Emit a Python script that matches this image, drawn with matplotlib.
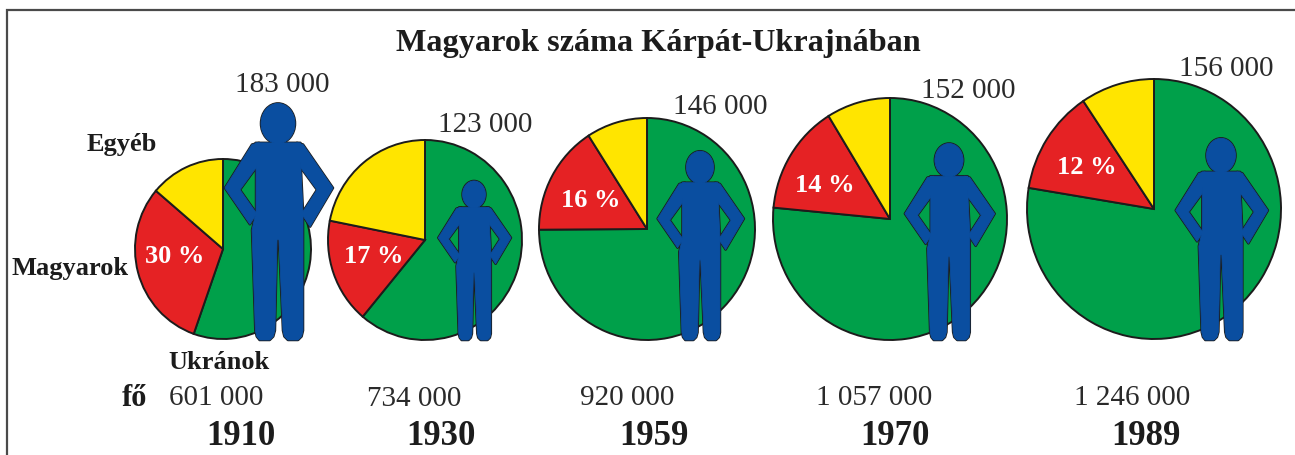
import matplotlib
matplotlib.use('Agg')
import matplotlib.pyplot as plt
from matplotlib.patches import Ellipse, Polygon

plt.rcParams['font.family'] = ['Liberation Serif', 'DejaVu Serif']

# Data
years = ['1910', '1930', '1959', '1970', '1989']
total_labels = ['601 000', '734 000', '920 000', '1 057 000', '1 246 000']
magyar_counts = [183000, 123000, 146000, 152000, 156000]
magyar_labels = ['183 000', '123 000', '146 000', '152 000', '156 000']
percent_labels = ['30 %', '17 %', '16 %', '14 %', '12 %']
egyeb_share = [13.8, 21.9, 9.1, 8.8, 9.4]
magyar_share = [30.8, 17.0, 16.0, 14.7, 13.0]
ukran_share = [55.4, 61.1, 74.9, 76.5, 77.6]

W, H = 1295, 456
GREEN, RED, YELLOW, BLUE = '#00a04a', '#e52224', '#ffe500', '#0a4ea0'
INK = '#1c1c1c'

# layout in image pixels, y measured from the top
pie_cx = [223, 425, 647, 890, 1154]
pie_cy = [250, 241, 230, 220, 210]
pie_rx = [88, 97, 108, 117, 127]
pie_ry = [90, 100, 111, 121, 130]
person_x = [278, 474, 700, 949, 1221]
person_base = 341
px_per_person = 1 / 775
count_x = [282, 485, 720, 968, 1226]
count_y = [83, 122, 105, 88, 66]
total_x = [216, 414, 627, 874, 1132]
total_y = [396, 397, 396, 396, 396]
year_x = [241, 441, 654, 895, 1146]
percent_x = [175, 374, 591, 825, 1087]
percent_y = [254, 254, 198, 183, 165]

# person outline, unit = figure height, x from the body axis, y from the head top
TORSO = [(-0.095, 0.165), (0.095, 0.165), (0.097, 0.271), (0.106, 0.458), (0.106, 0.96),
         (0.100, 0.985), (0.085, 1.0), (0.042, 1.0), (0.027, 0.985), (0.021, 0.96),
         (0.004, 0.575), (-0.004, 0.575), (-0.013, 0.96), (-0.020, 0.985), (-0.035, 1.0),
         (-0.078, 1.0), (-0.090, 0.985), (-0.096, 0.96), (-0.110, 0.534), (-0.093, 0.458),
         (-0.093, 0.271)]
ARM_R = [(0.080, 0.165), (0.106, 0.172), (0.233, 0.356), (0.136, 0.520), (0.100, 0.465),
         (0.165, 0.364), (0.097, 0.271)]
ARM_L = [(-0.080, 0.165), (-0.110, 0.172), (-0.225, 0.356), (-0.119, 0.510), (-0.090, 0.465),
         (-0.161, 0.364), (-0.093, 0.271)]
HEAD = (0.0, 0.083, 0.144, 0.170)


def fig_box(cx, cy, rx, ry):
    return [(cx - rx) / W, 1 - (cy + ry) / H, 2 * rx / W, 2 * ry / H]


def to_xy(points, x0, height):
    top = person_base - height
    return [(x0 + px * height, H - (top + py * height)) for px, py in points]


def draw_person(ax, x0, count):
    height = count * px_per_person
    top = person_base - height
    # outline first, then the fill on top so the parts merge into one shape
    for edge, lw, z in [(INK, 1.8, 6), (BLUE, 0.6, 7)]:
        for part in (TORSO, ARM_R, ARM_L):
            ax.add_patch(Polygon(to_xy(part, x0, height), closed=True, facecolor=BLUE,
                                 edgecolor=edge, linewidth=lw, joinstyle='round', zorder=z))
        ax.add_patch(Ellipse((x0 + HEAD[0] * height, H - (top + HEAD[1] * height)),
                             HEAD[2] * height, HEAD[3] * height, facecolor=BLUE,
                             edgecolor=edge, linewidth=lw, zorder=z))


fig = plt.figure(figsize=(W / 100, H / 100), dpi=100, facecolor='white')

for i in range(len(years)):
    ax_pie = fig.add_axes(fig_box(pie_cx[i], pie_cy[i], pie_rx[i], pie_ry[i]))
    ax_pie.pie([ukran_share[i], magyar_share[i], egyeb_share[i]],
               colors=[GREEN, RED, YELLOW], startangle=90, counterclock=False,
               wedgeprops={'edgecolor': INK, 'linewidth': 1.4, 'clip_on': False})
    ax_pie.set_aspect('auto')
    ax_pie.set_xlim(-1, 1)
    ax_pie.set_ylim(-1, 1)
    ax_pie.set_zorder(1)

ax = fig.add_axes([0, 0, 1, 1], zorder=2)
ax.set_xlim(0, W)
ax.set_ylim(0, H)
ax.axis('off')
ax.patch.set_alpha(0)

# frame: only top and left sides
ax.plot([W, 7, 7], [H - 10.5, H - 10.5, 0], color='#4a4a4a', lw=1.6, solid_joinstyle='miter')


def label(x, y, s, size, bold=False, color=INK, ha='center'):
    ax.text(x, H - y - 2.5, s, fontsize=size, ha=ha, va='center', color=color,
            fontweight='bold' if bold else 'normal', zorder=9)


label(658, 40.5, 'Magyarok száma Kárpát-Ukrajnában', 23.2, bold=True)

for i in range(len(years)):
    draw_person(ax, person_x[i], magyar_counts[i])
    label(count_x[i], count_y[i], magyar_labels[i], 21, color='#2a2a2a')
    label(total_x[i], total_y[i], total_labels[i], 21, color='#2a2a2a')
    label(year_x[i], 434, years[i], 25, bold=True)
    label(percent_x[i], percent_y[i], percent_labels[i], 19, bold=True, color='white')

label(122, 142, 'Egyéb', 19, bold=True)
label(70, 266, 'Magyarok', 19, bold=True)
label(219, 360, 'Ukránok', 19, bold=True)
label(134, 396, 'fő', 22, bold=True)

plt.savefig('out.png', dpi=100)
